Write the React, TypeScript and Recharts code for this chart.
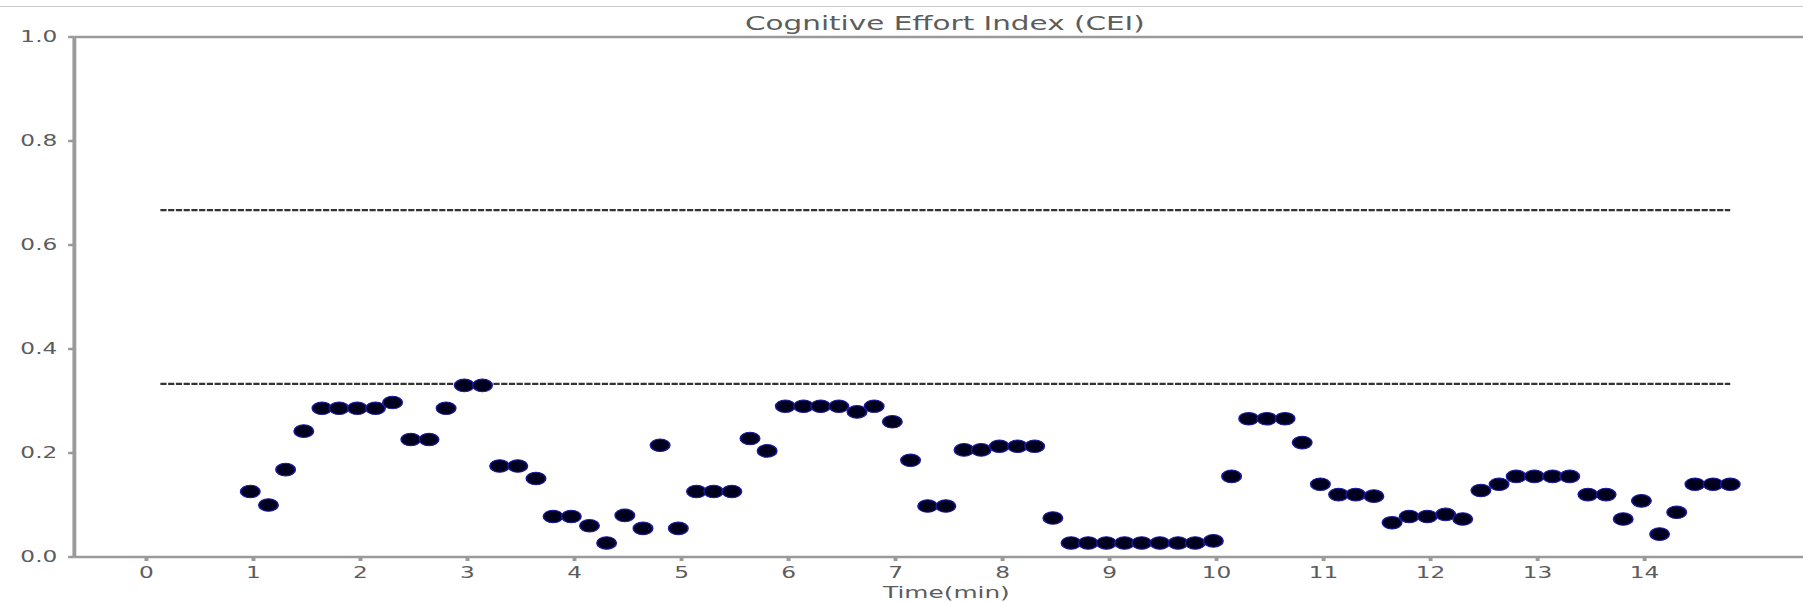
import * as React from "react";
import { ReferenceLine, Scatter, ScatterChart, XAxis, YAxis } from "recharts";

// time in minutes, one sample every 10 s
const times = [
  0.97, 1.14, 1.3, 1.47, 1.64, 1.8, 1.97, 2.14, 2.3, 2.47, 2.64, 2.8, 2.97, 3.14,
  3.3, 3.47, 3.64, 3.8, 3.97, 4.14, 4.3, 4.47, 4.64, 4.8, 4.97, 5.14, 5.3, 5.47,
  5.64, 5.8, 5.97, 6.14, 6.3, 6.47, 6.64, 6.8, 6.97, 7.14, 7.3, 7.47, 7.64, 7.8,
  7.97, 8.14, 8.3, 8.47, 8.64, 8.8, 8.97, 9.14, 9.3, 9.47, 9.64, 9.8, 9.97, 10.14,
  10.3, 10.47, 10.64, 10.8, 10.97, 11.14, 11.3, 11.47, 11.64, 11.8, 11.97, 12.14,
  12.3, 12.47, 12.64, 12.8, 12.97, 13.14, 13.3, 13.47, 13.64, 13.8, 13.97, 14.14,
  14.3, 14.47, 14.64, 14.8,
];

const cei = [
  0.126, 0.1, 0.168, 0.242, 0.286, 0.286, 0.286, 0.286, 0.297, 0.226, 0.226, 0.286,
  0.33, 0.33, 0.175, 0.175, 0.151, 0.078, 0.078, 0.06, 0.027, 0.08, 0.055, 0.215,
  0.055, 0.126, 0.126, 0.126, 0.228, 0.204, 0.29, 0.29, 0.29, 0.29, 0.279, 0.29,
  0.26, 0.186, 0.098, 0.098, 0.206, 0.206, 0.213, 0.213, 0.213, 0.075, 0.027, 0.027,
  0.027, 0.027, 0.027, 0.027, 0.027, 0.027, 0.031, 0.155, 0.266, 0.266, 0.266, 0.22,
  0.14, 0.12, 0.12, 0.117, 0.066, 0.078, 0.078, 0.082, 0.073, 0.128, 0.14, 0.155,
  0.155, 0.155, 0.155, 0.12, 0.12, 0.073, 0.108, 0.044, 0.086, 0.14, 0.14, 0.14,
];

const xTicks = [0, 1, 2, 3, 4, 5, 6, 7, 8, 9, 10, 11, 12, 13, 14];
const yTicks = [0, 0.2, 0.4, 0.6, 0.8, 1.0];
const thresholds = [0.667, 0.333];
const thresholdStart = 0.13;
const thresholdEnd = 14.8;

const points = times.map((t, i) => ({ x: t, y: cei[i] }));

const SCALE = 1803 / 1164;
const grey = "#9a9a9a";
const textCol = "#5c5c5c";
const font = "'DejaVu Sans', sans-serif";

const Dot = (props: any) => (
  <circle cx={props.cx} cy={props.cy} r={6.3} fill="#00001e" stroke="#1a1aa0" strokeWidth={1} />
);

export default function App() {
  return (
    <div style={{ position: "absolute", left: 0, top: 0, width: 1803, height: 602, background: "#fff" }}>
      <div style={{ position: "absolute", left: 0, top: 6, width: 1803, height: 1, background: "#c8c8c8" }} />
      <div
        style={{
          position: "absolute",
          left: 0,
          top: 0,
          width: 1164,
          height: 602,
          transform: `scaleX(${SCALE})`,
          transformOrigin: "0 0",
        }}
      >
        <div
          style={{
            position: "absolute",
            left: 410,
            top: 13,
            width: 400,
            textAlign: "center",
            fontFamily: font,
            fontSize: 19,
            lineHeight: "20px",
            color: textCol,
          }}
        >
          Cognitive Effort Index (CEI)
        </div>
        <ScatterChart width={1164} height={602} margin={{ top: 37, right: 0, bottom: 0, left: 0 }}>
          <XAxis
            type="number"
            dataKey="x"
            domain={[-0.674, 15.48]}
            ticks={xTicks}
            allowDataOverflow
            height={45}
            stroke={grey}
            strokeWidth={2.5}
            tickSize={4}
            tickMargin={6}
            tick={{ fill: textCol, fontSize: 15, fontFamily: font }}
          />
          <YAxis
            type="number"
            dataKey="y"
            domain={[0, 1]}
            ticks={yTicks}
            tickFormatter={(v: number) => v.toFixed(1)}
            width={48}
            stroke={grey}
            strokeWidth={2.5}
            tickSize={4}
            tickMargin={7}
            tick={{ fill: textCol, fontSize: 15, fontFamily: font }}
          />
          <ReferenceLine y={1} stroke={grey} strokeWidth={2.5} />
          {thresholds.map((v) => (
            <ReferenceLine
              key={v}
              segment={[
                { x: thresholdStart, y: v },
                { x: thresholdEnd, y: v },
              ]}
              stroke="#333"
              strokeWidth={2.2}
              strokeDasharray="4 1"
            />
          ))}
          <Scatter data={points} shape={Dot} isAnimationActive={false} />
        </ScatterChart>
        <div
          style={{
            position: "absolute",
            left: 511,
            top: 584,
            width: 200,
            textAlign: "center",
            fontFamily: font,
            fontSize: 16,
            lineHeight: "17px",
            color: textCol,
          }}
        >
          Time(min)
        </div>
      </div>
    </div>
  );
}
